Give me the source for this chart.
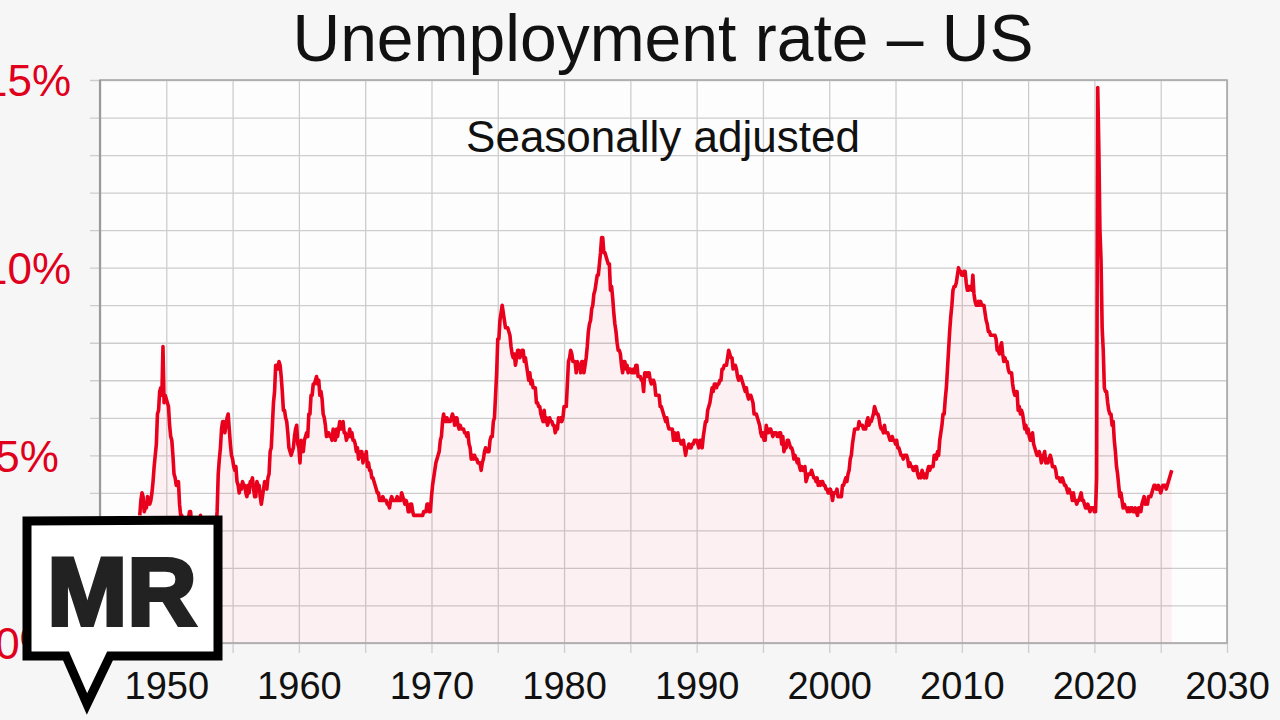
<!DOCTYPE html>
<html>
<head>
<meta charset="utf-8">
<script src="https://cdn.jsdelivr.net/npm/d3@7"></script>
<style>
  html, body { margin: 0; padding: 0; background: #f6f6f6; }
  svg { display: block; font-family: 'Liberation Sans', Arial, sans-serif; }
</style>
</head>
<body>
<div class="chart"></div>
<script>
// monthly unemployment rate (%), seasonally adjusted, one array per decade
const rates1940s = [
  3.4, 3.8, 4.0, 3.9, 3.5, 3.6, 3.6, 3.9, 3.8, 3.7, 3.8, 4.0,
  4.3, 4.7, 5.0, 5.3, 6.1, 6.2, 6.7, 6.8, 6.6, 7.9, 6.4, 6.6,
];
const rates1950s = [
  6.5, 6.4, 6.3, 5.8, 5.5, 5.4, 5.0, 4.5, 4.4, 4.2, 4.2, 4.3,
  3.7, 3.4, 3.4, 3.1, 3.0, 3.2, 3.1, 3.1, 3.3, 3.5, 3.5, 3.1,
  3.2, 3.1, 2.9, 2.9, 3.0, 3.0, 3.2, 3.4, 3.1, 3.0, 2.8, 2.7,
  2.9, 2.6, 2.6, 2.7, 2.5, 2.5, 2.6, 2.7, 2.9, 3.1, 3.5, 4.5,
  4.9, 5.2, 5.7, 5.9, 5.9, 5.6, 5.8, 6.0, 6.1, 5.7, 5.3, 5.0,
  4.9, 4.7, 4.6, 4.7, 4.3, 4.2, 4.0, 4.2, 4.1, 4.3, 4.2, 4.2,
  4.0, 3.9, 4.2, 4.0, 4.3, 4.3, 4.4, 4.1, 3.9, 3.9, 4.3, 4.2,
  4.2, 3.9, 3.7, 3.9, 4.1, 4.3, 4.2, 4.1, 4.4, 4.5, 5.1, 5.2,
  5.8, 6.4, 6.7, 7.4, 7.4, 7.3, 7.5, 7.4, 7.1, 6.7, 6.2, 6.2,
  6.0, 5.9, 5.6, 5.2, 5.1, 5.0, 5.1, 5.2, 5.5, 5.7, 5.8, 5.3,
];
const rates1960s = [
  5.2, 4.8, 5.4, 5.2, 5.1, 5.4, 5.5, 5.6, 5.5, 6.1, 6.1, 6.6,
  6.6, 6.9, 6.9, 7.0, 7.1, 6.9, 7.0, 6.6, 6.7, 6.5, 6.1, 6.0,
  5.8, 5.5, 5.6, 5.6, 5.5, 5.5, 5.4, 5.7, 5.6, 5.4, 5.7, 5.5,
  5.7, 5.9, 5.7, 5.7, 5.9, 5.6, 5.6, 5.4, 5.5, 5.5, 5.7, 5.5,
  5.6, 5.4, 5.4, 5.3, 5.1, 5.2, 4.9, 5.0, 5.1, 5.1, 4.8, 5.0,
  4.9, 5.1, 4.7, 4.8, 4.6, 4.6, 4.4, 4.4, 4.3, 4.2, 4.1, 4.0,
  4.0, 3.8, 3.8, 3.8, 3.9, 3.8, 3.8, 3.8, 3.7, 3.7, 3.6, 3.8,
  3.9, 3.8, 3.8, 3.8, 3.8, 3.9, 3.8, 3.8, 3.8, 4.0, 3.9, 3.8,
  3.7, 3.8, 3.7, 3.5, 3.5, 3.7, 3.7, 3.5, 3.4, 3.4, 3.4, 3.4,
  3.4, 3.4, 3.4, 3.4, 3.4, 3.5, 3.5, 3.5, 3.7, 3.7, 3.5, 3.5,
];
const rates1970s = [
  3.9, 4.2, 4.4, 4.6, 4.8, 4.9, 5.0, 5.1, 5.4, 5.5, 5.9, 6.1,
  5.9, 5.9, 6.0, 5.9, 5.9, 5.9, 6.0, 6.1, 6.0, 5.8, 6.0, 6.0,
  5.8, 5.7, 5.8, 5.7, 5.7, 5.7, 5.6, 5.6, 5.5, 5.6, 5.3, 5.2,
  4.9, 5.0, 4.9, 5.0, 4.9, 4.9, 4.8, 4.8, 4.8, 4.6, 4.8, 4.9,
  5.1, 5.2, 5.1, 5.1, 5.1, 5.4, 5.5, 5.5, 5.9, 6.0, 6.6, 7.2,
  8.1, 8.1, 8.6, 8.8, 9.0, 8.8, 8.6, 8.4, 8.4, 8.4, 8.3, 8.2,
  7.9, 7.7, 7.6, 7.7, 7.4, 7.6, 7.8, 7.8, 7.6, 7.7, 7.8, 7.8,
  7.5, 7.6, 7.4, 7.2, 7.0, 7.2, 6.9, 7.0, 6.8, 6.8, 6.8, 6.4,
  6.4, 6.3, 6.3, 6.1, 6.0, 5.9, 6.2, 5.9, 6.0, 5.8, 5.9, 6.0,
  5.9, 5.9, 5.8, 5.8, 5.6, 5.7, 5.7, 6.0, 5.9, 6.0, 5.9, 6.0,
];
const rates1980s = [
  6.3, 6.3, 6.3, 6.9, 7.5, 7.6, 7.8, 7.7, 7.5, 7.5, 7.5, 7.2,
  7.5, 7.4, 7.4, 7.2, 7.5, 7.5, 7.2, 7.4, 7.6, 7.9, 8.3, 8.5,
  8.6, 8.9, 9.0, 9.3, 9.4, 9.6, 9.8, 9.8, 10.1, 10.4, 10.8, 10.8,
  10.4, 10.4, 10.3, 10.2, 10.1, 10.1, 9.4, 9.5, 9.2, 8.8, 8.5, 8.3,
  8.0, 7.8, 7.8, 7.7, 7.4, 7.2, 7.5, 7.5, 7.3, 7.4, 7.2, 7.3,
  7.3, 7.2, 7.2, 7.3, 7.2, 7.4, 7.4, 7.1, 7.1, 7.1, 7.0, 7.0,
  6.7, 7.2, 7.2, 7.1, 7.2, 7.2, 7.0, 6.9, 7.0, 7.0, 6.9, 6.6,
  6.6, 6.6, 6.6, 6.3, 6.3, 6.2, 6.1, 6.0, 5.9, 6.0, 5.8, 5.7,
  5.7, 5.7, 5.7, 5.4, 5.6, 5.4, 5.4, 5.6, 5.4, 5.4, 5.3, 5.3,
  5.4, 5.2, 5.0, 5.2, 5.2, 5.3, 5.2, 5.2, 5.3, 5.3, 5.4, 5.4,
];
const rates1990s = [
  5.4, 5.3, 5.2, 5.4, 5.4, 5.2, 5.5, 5.7, 5.9, 5.9, 6.2, 6.3,
  6.4, 6.6, 6.8, 6.7, 6.9, 6.9, 6.8, 6.9, 6.9, 7.0, 7.0, 7.3,
  7.3, 7.4, 7.4, 7.4, 7.6, 7.8, 7.7, 7.6, 7.6, 7.3, 7.4, 7.4,
  7.3, 7.1, 7.0, 7.1, 7.1, 7.0, 6.9, 6.8, 6.7, 6.8, 6.6, 6.5,
  6.6, 6.6, 6.5, 6.4, 6.1, 6.1, 6.1, 6.0, 5.9, 5.8, 5.6, 5.5,
  5.6, 5.4, 5.4, 5.8, 5.6, 5.6, 5.7, 5.7, 5.6, 5.5, 5.6, 5.6,
  5.6, 5.5, 5.5, 5.6, 5.6, 5.3, 5.5, 5.1, 5.2, 5.2, 5.4, 5.4,
  5.3, 5.2, 5.2, 5.1, 4.9, 5.0, 4.9, 4.8, 4.9, 4.7, 4.6, 4.7,
  4.6, 4.6, 4.7, 4.3, 4.4, 4.5, 4.5, 4.5, 4.6, 4.5, 4.4, 4.4,
  4.3, 4.4, 4.2, 4.3, 4.2, 4.3, 4.3, 4.2, 4.2, 4.1, 4.1, 4.0,
];
const rates2000s = [
  4.0, 4.1, 4.0, 3.8, 4.0, 4.0, 4.0, 4.1, 3.9, 3.9, 3.9, 3.9,
  4.2, 4.2, 4.3, 4.4, 4.3, 4.5, 4.6, 4.9, 5.0, 5.3, 5.5, 5.7,
  5.7, 5.7, 5.7, 5.9, 5.8, 5.8, 5.8, 5.7, 5.7, 5.7, 5.9, 6.0,
  5.8, 5.9, 5.9, 6.0, 6.1, 6.3, 6.2, 6.1, 6.1, 6.0, 5.8, 5.7,
  5.7, 5.6, 5.8, 5.6, 5.6, 5.6, 5.5, 5.4, 5.4, 5.5, 5.4, 5.4,
  5.3, 5.4, 5.2, 5.2, 5.1, 5.0, 5.0, 4.9, 5.0, 5.0, 5.0, 4.9,
  4.7, 4.8, 4.7, 4.7, 4.6, 4.6, 4.7, 4.7, 4.5, 4.4, 4.5, 4.4,
  4.6, 4.5, 4.4, 4.5, 4.4, 4.6, 4.7, 4.6, 4.7, 4.7, 4.7, 5.0,
  5.0, 4.9, 5.1, 5.0, 5.4, 5.6, 5.8, 6.1, 6.1, 6.5, 6.8, 7.3,
  7.8, 8.3, 8.7, 9.0, 9.4, 9.5, 9.5, 9.6, 9.8, 10.0, 9.9, 9.9,
];
const rates2010s = [
  9.8, 9.8, 9.9, 9.9, 9.6, 9.4, 9.4, 9.5, 9.5, 9.4, 9.8, 9.3,
  9.1, 9.0, 9.0, 9.1, 9.0, 9.1, 9.0, 9.0, 9.0, 8.8, 8.6, 8.5,
  8.3, 8.3, 8.2, 8.2, 8.2, 8.2, 8.2, 8.1, 7.8, 7.8, 7.7, 7.9,
  8.0, 7.7, 7.5, 7.6, 7.5, 7.5, 7.3, 7.2, 7.2, 7.2, 6.9, 6.7,
  6.6, 6.7, 6.7, 6.2, 6.3, 6.1, 6.2, 6.1, 5.9, 5.7, 5.8, 5.6,
  5.7, 5.5, 5.4, 5.4, 5.6, 5.3, 5.2, 5.1, 5.0, 5.0, 5.1, 5.0,
  4.8, 4.9, 5.0, 5.1, 4.8, 4.9, 4.8, 4.9, 5.0, 4.9, 4.7, 4.7,
  4.7, 4.6, 4.4, 4.4, 4.4, 4.3, 4.3, 4.4, 4.3, 4.2, 4.2, 4.1,
  4.0, 4.1, 4.0, 4.0, 3.8, 4.0, 3.8, 3.8, 3.7, 3.8, 3.8, 3.9,
  4.0, 3.8, 3.8, 3.7, 3.6, 3.6, 3.7, 3.6, 3.5, 3.6, 3.6, 3.6,
];
// October 2025 was not published
const rates2020s = [
  3.5, 3.5, 4.4, 14.8, 13.2, 11.0, 10.2, 8.4, 7.8, 6.8, 6.7, 6.7,
  6.4, 6.2, 6.1, 6.1, 5.8, 5.9, 5.4, 5.1, 4.7, 4.5, 4.2, 3.9,
  4.0, 3.8, 3.6, 3.7, 3.6, 3.6, 3.5, 3.6, 3.5, 3.6, 3.6, 3.5,
  3.5, 3.6, 3.5, 3.4, 3.6, 3.6, 3.5, 3.7, 3.8, 3.9, 3.7, 3.8,
  3.7, 3.9, 3.9, 3.9, 4.0, 4.1, 4.2, 4.2, 4.1, 4.1, 4.2, 4.1,
  4.0, 4.1, 4.2, 4.2, 4.2, 4.1, 4.2, 4.3, 4.4, null, 4.6,
];
const decadeStarts = [1948, 1950, 1960, 1970, 1980, 1990, 2000, 2010, 2020];
const decadeRates = [rates1940s, rates1950s, rates1960s, rates1970s, rates1980s,
  rates1990s, rates2000s, rates2010s, rates2020s];

const xTicks = [1950, 1960, 1970, 1980, 1990, 2000, 2010, 2020, 2030];
const xGridYears = d3.range(1945, 2031, 5);
const yTicks = [0, 5, 10, 15];
const yTickLabels = ['0%', '5%', '10%', '15%'];
const yGridValues = d3.range(0, 16, 1);
const title = 'Unemployment rate – US';
const subtitle = 'Seasonally adjusted';

function drawChart() {
  const dimensions = {
    width: 1280,
    height: 720,
    margin: { top: 80, right: 53, bottom: 77, left: 100 },
  };
  dimensions.boundedWidth =
    dimensions.width - dimensions.margin.left - dimensions.margin.right;
  dimensions.boundedHeight =
    dimensions.height - dimensions.margin.top - dimensions.margin.bottom;

  const dataset = [];
  decadeRates.forEach((values, k) => {
    values.forEach((v, i) => {
      if (v !== null) dataset.push({ date: decadeStarts[k] + i / 12, rate: v });
    });
  });

  const svg = d3
    .select('.chart')
    .append('svg')
    .attr('width', dimensions.width)
    .attr('height', dimensions.height);

  svg
    .append('rect')
    .attr('width', dimensions.width)
    .attr('height', dimensions.height)
    .attr('fill', '#f6f6f6');

  const bounds = svg
    .append('g')
    .attr('transform', `translate(${dimensions.margin.left},${dimensions.margin.top})`);

  const xScale = d3
    .scaleLinear()
    .domain([1945, 2030])
    .range([0, dimensions.boundedWidth]);

  const yScale = d3
    .scaleLinear()
    .domain([0, 15])
    .range([dimensions.boundedHeight, 0]);

  // plot background
  bounds
    .append('rect')
    .attr('width', dimensions.boundedWidth)
    .attr('height', dimensions.boundedHeight)
    .attr('fill', '#fdfdfe');

  // horizontal grid, sticking out 10px on the left
  const yGrid = d3
    .axisLeft(yScale)
    .tickValues(yGridValues)
    .tickSize(dimensions.boundedWidth + 10)
    .tickFormat('');
  bounds
    .append('g')
    .attr('transform', `translate(${dimensions.boundedWidth},0)`)
    .call(yGrid)
    .call((g) => g.select('.domain').remove())
    .call((g) => g.selectAll('line').attr('stroke', '#cdcdcd').attr('stroke-width', 1.3));

  // vertical grid, sticking out 10px below
  const xGrid = d3
    .axisBottom(xScale)
    .tickValues(xGridYears)
    .tickSize(dimensions.boundedHeight + 10)
    .tickFormat('');
  bounds
    .append('g')
    .call(xGrid)
    .call((g) => g.select('.domain').remove())
    .call((g) => g.selectAll('line').attr('stroke', '#cdcdcd').attr('stroke-width', 1.3));

  // area under line
  const areaGenerator = d3
    .area()
    .x((d) => xScale(d.date))
    .y0(yScale(0))
    .y1((d) => yScale(d.rate));
  bounds
    .append('path')
    .attr('d', areaGenerator(dataset))
    .attr('fill', '#fb0a1e')
    .attr('fill-opacity', 0.055);

  // plot frame
  bounds
    .append('rect')
    .attr('width', dimensions.boundedWidth)
    .attr('height', dimensions.boundedHeight)
    .attr('fill', 'none')
    .attr('stroke', '#a8a8a8')
    .attr('stroke-width', 1.6);
  bounds
    .append('line')
    .attr('y2', dimensions.boundedHeight)
    .attr('stroke', '#9a9a9a')
    .attr('stroke-width', 2.2);

  const lineGenerator = d3
    .line()
    .x((d) => xScale(d.date))
    .y((d) => yScale(d.rate));
  bounds
    .append('path')
    .attr('d', lineGenerator(dataset))
    .attr('fill', 'none')
    .attr('stroke', '#e8001c')
    .attr('stroke-width', 3.6)
    .attr('stroke-linejoin', 'round');

  // y labels
  const yAxis = d3
    .axisLeft(yScale)
    .tickValues(yTicks)
    .tickFormat((d) => yTickLabels[yTicks.indexOf(d)])
    .tickSize(0);
  bounds
    .append('g')
    .call(yAxis)
    .call((g) => g.select('.domain').remove())
    .call((g) =>
      g
        .selectAll('text')
        .attr('x', 27 - dimensions.margin.left)
        .attr('dy', '0.36em')
        .attr('text-anchor', 'middle')
        .attr('fill', '#e0001b')
        .style('font-size', '44px')
        .style('font-family', "'Liberation Sans', Arial, sans-serif")
    );

  // x labels
  const xAxis = d3
    .axisBottom(xScale)
    .tickValues(xTicks)
    .tickFormat(d3.format('d'))
    .tickSize(0);
  bounds
    .append('g')
    .attr('transform', `translate(0,${dimensions.boundedHeight})`)
    .call(xAxis)
    .call((g) => g.select('.domain').remove())
    .call((g) =>
      g
        .selectAll('text')
        .attr('y', 56)
        .attr('dy', 0)
        .attr('fill', '#111')
        .style('font-size', '38px')
        .style('font-family', "'Liberation Sans', Arial, sans-serif")
    );

  // title
  svg
    .append('text')
    .attr('x', 663)
    .attr('y', 61)
    .attr('text-anchor', 'middle')
    .attr('fill', '#111')
    .style('font-size', '66px')
    .text(title);

  svg
    .append('text')
    .attr('x', 663)
    .attr('y', 152)
    .attr('text-anchor', 'middle')
    .attr('fill', '#111')
    .style('font-size', '44px')
    .text(subtitle);

  // MR badge
  const badge = svg.append('g');
  badge
    .append('path')
    .attr('d', 'M27,521 L218,520 L218,656 L110,656 L87,704 L66,656 L27,656 Z')
    .attr('fill', '#fff')
    .attr('stroke', '#000')
    .attr('stroke-width', 9)
    .attr('stroke-linejoin', 'miter')
    .attr('stroke-miterlimit', 10);
  badge
    .append('text')
    .attr('x', 122)
    .attr('y', 625)
    .attr('text-anchor', 'middle')
    .attr('fill', '#222')
    .attr('stroke', '#222')
    .attr('stroke-width', 4)
    .style('font-size', '96px')
    .style('font-weight', 'bold')
    .text('MR');
}

drawChart();
</script>
</body>
</html>
